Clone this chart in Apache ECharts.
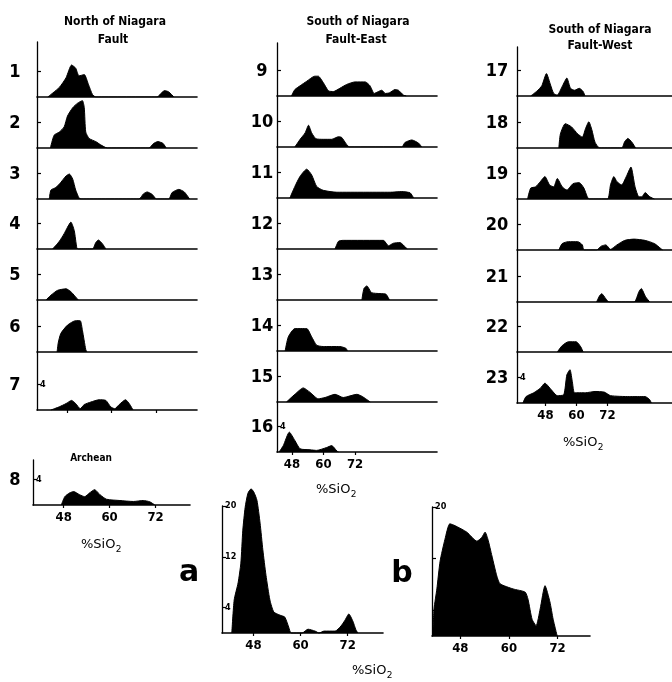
<!DOCTYPE html>
<html><head><meta charset="utf-8">
<script src="https://cdn.jsdelivr.net/npm/echarts@6/dist/echarts.min.js"></script>
<style>html,body{margin:0;padding:0;background:#fff}#c{width:672px;height:682px}</style>
</head><body><div id="c"></div>
<script>
// ---------- DATA (x = %SiO2, y = frequency) ----------
const xTickValues = [48, 60, 72];
const yTickSmall = [4];
const yTickBig = [4, 12, 20];
const p1 = [[42.9,0],[46.0,1.5],[47.8,3.0],[49.3,5.0],[50.4,4.5],[51.3,3.3],[52.7,3.5],[53.8,2.0],[54.9,0.4],[55.8,0],[72.3,0],[73.2,0.5],[74.3,1.0],[75.4,0.8],[76.8,0]];
const p2 = [[43.6,0],[44.6,2.0],[46.0,2.5],[47.3,3.3],[48.2,5.0],[49.6,6.3],[50.9,7.0],[52.2,7.4],[52.7,6.3],[53.1,2.5],[54.0,1.5],[55.8,1.0],[57.1,0.5],[58.9,0],[70.1,0],[71.3,0.7],[72.5,1.0],[73.9,0.7],[74.7,0]];
const p3 = [[43.3,0],[43.75,1.4],[45.1,1.8],[46.4,2.6],[47.8,3.6],[48.7,3.9],[49.6,3.1],[50.4,1.4],[51.3,0.15],[51.8,0],[67.4,0],[68.6,0.8],[69.6,1.1],[71.0,0.7],[72.1,0],[75.4,0],[76.3,1.0],[78.1,1.5],[79.6,1.1],[81.0,0]];
const p4 = [[44.2,0],[46.0,1.2],[47.3,2.4],[48.2,3.4],[49.1,4.2],[50.0,2.9],[50.7,0.2],[51.1,0],[54.9,0],[55.8,1.0],[56.5,1.4],[57.6,0.8],[58.5,0]];
const p5 = [[42.4,0],[43.75,0.75],[45.5,1.5],[47.8,1.75],[49.1,1.3],[50.2,0.6],[51.1,0]];
const p6 = [[45.4,0],[45.7,1.4],[46.4,2.9],[48.2,4.2],[50.4,4.9],[51.6,4.9],[52.2,3.4],[53.1,0.4],[53.4,0]];
const p7 = [[43.75,0],[46.0,0.5],[47.8,1.0],[49.3,1.5],[50.4,1.0],[51.6,0.2],[52.7,0.85],[54.5,1.25],[56.7,1.6],[58.5,1.5],[59.8,0.5],[60.9,0.2],[62.1,0.85],[63.8,1.6],[64.9,0.9],[65.8,0]];
const p8 = [[47.4,0],[48.3,1.3],[49.6,1.9],[50.6,2.1],[52.2,1.6],[53.5,1.3],[54.8,1.9],[56.1,2.4],[57.5,1.6],[59.2,0.9],[62.7,0.7],[66.2,0.55],[68.8,0.7],[70.5,0.5],[71.8,0]];
const p9 = [[47.8,0],[49.1,1.0],[51.1,1.6],[53.6,2.3],[56.7,3.1],[58.0,3.1],[59.9,2.1],[61.9,0.8],[63.8,0.7],[66.2,1.2],[68.8,1.8],[72.0,2.2],[75.9,2.2],[77.7,1.6],[79.3,0.4],[80.9,0.7],[82.2,0.9],[83.5,0.4],[85.1,0.5],[87.2,1.0],[88.5,0.9],[90.4,0.15],[91.5,0]];
const p10 = [[49.1,0],[51.1,1.2],[53.0,2.2],[54.3,3.4],[55.5,2.2],[57.1,1.3],[59.9,1.2],[63.1,1.2],[65.7,1.6],[66.9,1.5],[68.8,0.4],[69.9,0],[89.8,0],[91.0,0.7],[93.6,1.1],[96.2,0.6],[97.4,0]];
const p11 = [[47.2,0],[49.1,1.8],[51.1,3.4],[53.6,4.5],[55.5,3.6],[57.4,1.8],[59.9,1.2],[65.1,0.9],[75.2,0.9],[85.4,0.9],[89.8,1.0],[93.0,0.8],[94.3,0]];
const p12 = [[64.4,0],[65.7,1.2],[67.5,1.35],[82.8,1.35],[84.7,0.5],[86.6,0.9],[89.1,1.0],[91.5,0.15],[91.9,0]];
const p13 = [[74.6,0],[75.4,1.8],[76.5,2.2],[78.3,1.15],[81.5,1.0],[83.8,0.9],[85.1,0]];
const p14 = [[45.4,0],[46.6,2.2],[49.1,3.5],[53.6,3.5],[55.5,2.2],[57.4,0.9],[59.9,0.7],[66.2,0.7],[68.6,0.4],[69.1,0]];
const p15 = [[45.9,0],[49.1,1.2],[52.3,2.2],[54.9,1.5],[58.0,0.5],[60.6,0.7],[64.4,1.2],[67.5,0.7],[72.7,1.2],[74.6,0.9],[77.8,0]];
const p16 = [[43.1,0],[44.7,1.0],[47.0,3.1],[49.1,1.8],[51.1,0.5],[54.9,0.35],[57.4,0.25],[61.2,0.7],[63.1,1.0],[65.1,0.15],[65.7,0]];
const p17 = [[42.3,0],[44.8,0.8],[46.6,1.6],[48.4,3.5],[50.0,1.7],[51.2,0.4],[52.6,0.15],[54.5,1.5],[56.3,2.8],[57.7,1.2],[59.3,0.9],[61.1,1.2],[62.6,0.7],[63.3,0]];
const p18 = [[53.2,0],[53.8,2.2],[55.7,3.8],[58.1,3.3],[60.5,2.2],[62.3,1.7],[63.5,3.0],[64.8,4.1],[66.0,2.8],[67.2,0.9],[69.0,0],[77.5,0],[78.7,1.0],[79.9,1.5],[81.5,0.9],[82.9,0]];
const p19 = [[41.1,0],[42.3,1.7],[44.2,1.9],[46.0,2.7],[47.8,3.5],[49.6,2.2],[51.2,1.9],[52.6,3.2],[54.5,1.9],[56.3,1.4],[58.7,2.4],[61.1,2.55],[62.9,1.7],[64.2,0.35],[65.0,0],[72.0,0],[73.2,2.2],[74.5,3.5],[75.7,2.7],[77.5,2.2],[79.3,3.5],[81.1,5.0],[82.7,1.9],[84.2,0.35],[85.4,0.35],[86.6,1.0],[88.4,0.35],[90.2,0]];
const p20 = [[53.2,0],[54.5,1.0],[56.9,1.3],[60.5,1.3],[62.3,0.8],[62.9,0],[67.8,0],[69.6,0.6],[71.4,0.8],[73.2,0.1],[75.7,0.8],[78.7,1.5],[82.3,1.7],[86.6,1.5],[90.2,1.0],[92.6,0.25],[93.4,0]];
const p21 = [[67.8,0],[69.0,1.0],[69.8,1.3],[71.4,0.5],[72.6,0],[82.3,0],[84.2,1.6],[85.1,2.1],[86.8,0.8],[88.4,0]];
const p22 = [[52.6,0],[54.5,1.0],[56.9,1.6],[59.9,1.6],[61.7,0.8],[62.6,0]];
const p23 = [[39.3,0],[40.5,1.0],[43.5,1.6],[46.0,2.3],[47.8,3.1],[50.2,2.1],[52.6,1.15],[55.1,1.3],[56.3,4.4],[57.5,5.2],[58.5,3.1],[59.3,1.6],[63.5,1.6],[67.2,1.8],[70.8,1.7],[73.2,1.15],[80.5,1.0],[86.6,1.0],[88.4,0.5],[89.0,0]];
const pa = [[42.5,0],[43.1,5.2],[44.1,7.9],[44.8,11.0],[45.3,16.2],[45.9,19.8],[46.6,22.0],[47.4,22.7],[48.1,22.2],[48.9,20.9],[49.7,17.3],[50.4,13.1],[51.2,9.1],[52.2,5.2],[53.2,3.3],[54.8,2.8],[56.0,2.5],[57.0,0.9],[57.6,0],[60.4,0],[61.9,0.6],[63.7,0.3],[64.7,0],[66.0,0.3],[68.8,0.3],[70.3,1.1],[71.3,2.0],[72.3,3.0],[73.3,1.9],[74.1,0.5],[74.6,0]];
const pb = [[41.2,0],[41.5,4.2],[42.2,7.3],[43.0,11.6],[44.2,15.0],[45.4,17.4],[46.7,17.1],[49.6,16.1],[52.1,14.7],[53.3,15.3],[54.1,16.1],[54.8,15.0],[55.8,12.4],[57.0,9.3],[57.8,8.1],[61.0,7.3],[64.0,6.8],[64.7,5.7],[65.7,2.6],[66.7,1.6],[67.7,4.2],[68.9,7.8],[70.1,5.3],[70.9,2.6],[71.9,0]];

// ---------- LAYOUT ----------
const PXU = 6.4; // px per frequency unit for small panels
const COL1 = {left:37, width:160, xmin:40, xmax:83};
const COL2 = {left:277, width:160, xmin:42.3, xmax:103.2};
const COL3 = {left:517, width:165, xmin:37, xmax:97};
const panels = [
  {n:'1', d:p1, c:COL1, top:42, base:97},
  {n:'2', d:p2, c:COL1, top:97, base:148},
  {n:'3', d:p3, c:COL1, top:148, base:199},
  {n:'4', d:p4, c:COL1, top:199, base:249},
  {n:'5', d:p5, c:COL1, top:249, base:300},
  {n:'6', d:p6, c:COL1, top:300, base:352},
  {n:'7', d:p7, c:COL1, top:352, base:410, yl:true, xt:true},
  {n:'8', d:p8, c:{left:33, width:157, xmin:40, xmax:81}, top:460, base:505, yl:true, xt:true, xl:true},
  {n:'9', d:p9, c:COL2, top:43, base:96},
  {n:'10', d:p10, c:COL2, top:96, base:147},
  {n:'11', d:p11, c:COL2, top:147, base:198},
  {n:'12', d:p12, c:COL2, top:198, base:249},
  {n:'13', d:p13, c:COL2, top:249, base:300},
  {n:'14', d:p14, c:COL2, top:300, base:351},
  {n:'15', d:p15, c:COL2, top:351, base:402},
  {n:'16', d:p16, c:COL2, top:402, base:452, yl:true, xt:true, xl:true},
  {n:'17', d:p17, c:COL3, top:47, base:96},
  {n:'18', d:p18, c:COL3, top:96, base:148},
  {n:'19', d:p19, c:COL3, top:148, base:199},
  {n:'20', d:p20, c:COL3, top:199, base:250},
  {n:'21', d:p21, c:COL3, top:250, base:302},
  {n:'22', d:p22, c:COL3, top:302, base:352},
  {n:'23', d:p23, c:COL3, top:352, base:403, yl:true, xt:true, xl:true},
  {n:'', d:pa, c:{left:222, width:161, xmin:40, xmax:81}, top:506, base:633, big:true, ylab:yTickBig, xt:true, xl:true},
  {n:'', d:pb, c:{left:432, width:158, xmin:41, xmax:80}, top:507, base:636, big:true, ylab:[20], xt:true, xl:true}
];
const numX = {37:15, 33:15, 277:262, 517:497};
const FONT_C = "'DejaVu Sans Condensed','Liberation Sans Narrow','Liberation Sans',sans-serif";
const FONT_R = "'DejaVu Sans','Liberation Sans',sans-serif";

const grid = [], xAxis = [], yAxis = [], series = [], graphic = [];
panels.forEach((p, i) => {
  const h = p.base - p.top;
  grid.push({left:p.c.left, top:p.top, width:p.c.width, height:h, containLabel:false});
  xAxis.push({type:'value', gridIndex:i, min:p.c.xmin, max:p.c.xmax,
    axisLine:{show:true, onZero:false, lineStyle:{color:'#000', width:1.6}},
    axisTick:{show:!!p.xt, length:3, customValues:xTickValues, lineStyle:{color:'#000', width:1.2}},
    axisLabel:{show:!!p.xl, customValues:xTickValues, color:'#000', fontSize:13, fontWeight:'bold', fontFamily:FONT_C, margin:6},
    splitLine:{show:false}});
  const ymax = p.big ? 20 : h / PXU;
  yAxis.push({type:'value', gridIndex:i, min:0, max:ymax, z:5,
    axisLine:{show:true, lineStyle:{color:'#000', width:1.3}},
    axisTick:{show:true, inside:true, length:4, customValues:p.big ? yTickBig : yTickSmall, lineStyle:{color:'#000', width:1.2}},
    axisLabel:{show:!!(p.yl || p.big), inside:true, customValues:p.big ? p.ylab : yTickSmall, color:'#000', fontSize:9, fontWeight:'bold', fontFamily:FONT_C, margin:3},
    splitLine:{show:false}});
  series.push({type:'line', xAxisIndex:i, yAxisIndex:i, data:p.d, showSymbol:false, smooth:0.2,
    clip:!p.big, lineStyle:{color:'#000', width:1}, areaStyle:{color:'#000', opacity:1}, silent:true, animation:false});
  if (p.n) {
    graphic.push({type:'text', x:numX[p.c.left], y:p.base - 25, style:{text:p.n, fill:'#000', font:'bold 18px ' + FONT_C, align:'center', verticalAlign:'middle', textAlign:'center', textVerticalAlign:'middle'}});
  }
});

function txt(t, x, y, font, align) {
  graphic.push({type:'text', x:x, y:y, style:{text:t, fill:'#000', font:font, align:align || 'center', verticalAlign:'middle', textAlign:align || 'center', textVerticalAlign:'middle'}});
}
const ctx = document.createElement('canvas').getContext('2d');
function sio2(cx, y) {
  const f = '13px ' + FONT_R;
  ctx.font = f;
  const w1 = ctx.measureText('%SiO').width;
  ctx.font = '9px ' + FONT_R;
  const w2 = ctx.measureText('2').width;
  const x0 = cx - (w1 + w2) / 2;
  txt('%SiO', x0, y, f, 'left');
  txt('2', x0 + w1 + 0.5, y + 5, '9px ' + FONT_R, 'left');
}
const TF = 'bold 12px ' + FONT_C;
txt('North of Niagara', 115, 22, TF);
txt('Fault', 113, 40, TF);
txt('South of Niagara', 358, 22, TF);
txt('Fault-East', 356, 40, TF);
txt('South of Niagara', 600, 30, TF);
txt('Fault-West', 600, 46, TF);
txt('Archean', 91, 458, 'bold 10px ' + FONT_C);
sio2(101, 545);
sio2(336, 490);
sio2(583, 443);
sio2(372, 671);
txt('a', 189, 573, 'bold 30px ' + FONT_R);
txt('b', 402, 574, 'bold 30px ' + FONT_R);

const chart = echarts.init(document.getElementById('c'), null, {renderer:'canvas'});
chart.setOption({animation:false, backgroundColor:'#fff', grid, xAxis, yAxis, series, graphic});
</script></body></html>
